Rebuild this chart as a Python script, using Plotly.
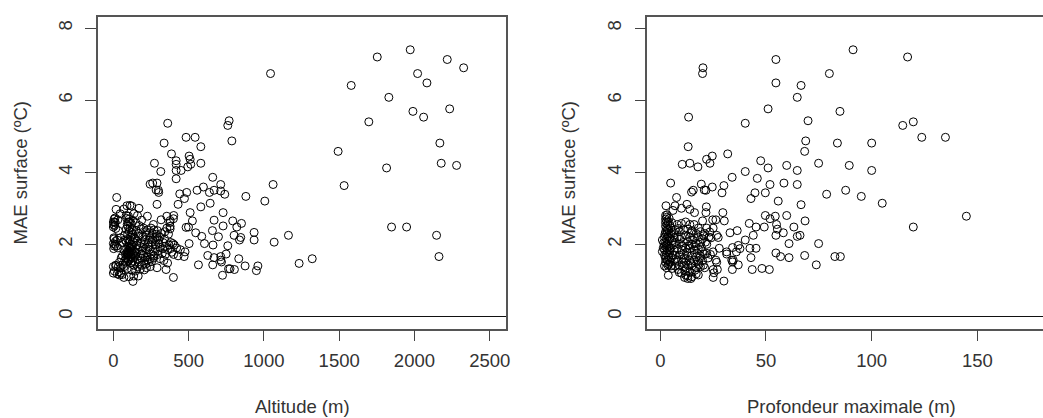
import plotly.graph_objects as go

# (altitude m, MAE surface degC)
altitude_points = [
 (1972,7.40),(1753,7.20),(2218,7.13),(2327,6.90),(1044,6.74),(2021,6.74),(2083,6.48),(1580,6.41),(1830,6.08),(2234,5.76),
 (1990,5.69),(2061,5.53),(1697,5.40),(769,5.43),(760,5.30),(361,5.36),(483,4.97),(543,4.97),(787,4.87),(337,4.81),
 (2169,4.81),(581,4.71),(1493,4.58),(386,4.51),(503,4.45),(510,4.36),(417,4.32),(273,4.25),(581,4.25),(2178,4.25),
 (2280,4.19),(417,4.22),(514,4.22),(494,4.15),(1815,4.12),(417,4.05),(450,4.05),(315,4.02),(660,3.86),(417,3.82),
 (244,3.67),(261,3.70),(290,3.70),(713,3.66),(1061,3.66),(1533,3.63),(598,3.59),(284,3.51),(299,3.50),(301,3.44),
 (556,3.50),(669,3.50),(713,3.48),(638,3.44),(487,3.44),(441,3.40),(740,3.39),(880,3.33),(472,3.27),(22,3.30),
 (1006,3.20),(430,3.11),(643,3.14),(290,3.11),(581,3.04),
 (510,2.88),(729,2.88),(355,2.78),(401,2.80),(669,2.67),(525,2.65),(793,2.65),(851,2.58),(820,2.48),(729,2.51),
 (483,2.47),(499,2.48),(658,2.38),(547,2.32),(935,2.33),(587,2.22),(802,2.25),(698,2.21),(846,2.19),(838,2.12),
 (1163,2.25),(935,2.12),(1068,2.06),(503,2.02),(605,2.02),(662,1.98),(760,1.96),(476,1.79),(445,1.85),(627,1.69),
 (470,1.66),(669,1.63),(749,1.73),(713,1.66),(713,1.56),(718,1.51),(833,1.60),(1321,1.60),(1234,1.47),(565,1.43),
 (660,1.43),(875,1.40),(960,1.40),(950,1.27),(765,1.32),(775,1.32),(804,1.30),(725,1.14),(399,1.08),(1848,2.48),
 (1948,2.48),(2147,2.25),(2163,1.66),
 (18,2.97),(70,2.98),(110,3.08),(90,3.07),(122,3.06),(170,3.00),(45,2.85),(137,2.85),(160,2.80),(85,2.80),
 (11,2.73),(0,2.62),(11,2.62),(188,2.67),(226,2.78),(317,2.68),(0,2.48),(33,2.38),(266,2.55),(377,2.66),
 (399,2.71),(377,2.43),(377,2.50),
 (5,2.70),(30,2.68),(12,2.60),(2,2.55),(100,2.78),(105,2.70),(98,2.62),(118,2.58),(130,2.66),(150,2.60),
 (172,2.52),(200,2.45),(225,2.40),(250,2.45),(270,2.40),(292,2.38),(320,2.30),(355,2.45),(375,2.60),
 (95,2.50),(110,2.45),(125,2.40),(85,2.42),(105,2.36),(150,2.38),(165,2.30),(185,2.42),(215,2.35),(240,2.32),
 (260,2.30),(285,2.28),(310,2.20),(340,2.15),
 (5,2.15),(25,2.12),(45,2.18),(75,2.25),(95,2.28),(115,2.20),(130,2.28),(145,2.15),(170,2.22),(195,2.20),
 (220,2.25),(245,2.18),(275,2.15),(300,2.12),(330,2.05),
 (0,2.02),(10,2.00),(20,1.95),(2,1.88),(30,1.90),(60,2.05),(85,2.08),(105,2.05),(120,2.00),(135,2.05),
 (155,1.98),(180,2.05),(205,2.00),(230,2.02),(255,2.05),(280,1.98),(310,1.92),(345,1.95),(380,1.88),(395,2.02),
 (405,1.98),(370,1.98),(420,1.90),
 (70,1.85),(88,1.88),(100,1.82),(112,1.90),(125,1.85),(140,1.80),(160,1.85),(190,1.82),(215,1.88),(240,1.85),
 (265,1.80),(295,1.82),(325,1.75),(360,1.85),(400,1.72),(430,1.68),
 (40,1.50),(60,1.68),(80,1.72),(92,1.70),(105,1.65),(118,1.72),(130,1.62),(145,1.68),(165,1.58),(185,1.62),
 (205,1.55),(225,1.65),(245,1.60),(235,1.50),(215,1.45),(270,1.68),(310,1.60),(335,1.55),(360,1.48),
 (0,1.38),(15,1.42),(70,1.38),(85,1.50),(100,1.55),(115,1.48),(135,1.42),(160,1.38),(190,1.42),(220,1.35),
 (245,1.38),(290,1.35),(350,1.30),
 (0,1.20),(25,1.18),(40,1.15),(50,1.20),(70,1.08),(105,1.10),(135,1.12),(165,1.12),(130,0.97),
 (100,1.75),(110,1.78),(120,1.80),(130,1.75),(115,1.65),(95,1.60),(108,1.58),(90,1.78),(125,1.95),(100,1.95),
 (88,2.72),(92,2.55),(108,2.62),(122,2.33),(78,2.12),(96,2.14),(112,2.11),(138,2.18),(158,2.09),(176,1.94),
 (198,1.91),(222,1.77),(236,1.93),(252,1.72),(278,1.88),(302,2.02),(288,2.22),(262,2.12),(208,2.12),(186,1.73),
 (152,1.74),(128,1.53),(144,1.51),(172,1.47),(198,1.69),(226,1.56),(212,1.63),(254,1.52),(84,1.62),(76,1.55),
 (62,1.43),(52,1.62),(48,1.34),(36,1.24),(58,1.16),(92,1.33),(122,1.28),(148,1.26),(178,1.31),(205,1.29),
 (6,1.95),(14,2.08),(3,2.18),(8,2.52),(16,2.44),(18,1.40),(6,1.26),(32,1.37),(236,2.12),(328,1.88),
 (268,1.62),(296,1.72),(346,1.72),(382,2.05),(388,1.78),(342,2.35),(366,2.28),(118,1.92),(106,1.88),(94,1.72),
]

# (maximum depth m, MAE surface degC)
depth_points = [
 (91.2,7.40),(117,7.20),(54.7,7.13),(20.2,6.90),(20,6.74),(80,6.74),(54.7,6.48),(66.6,6.41),(64.8,6.08),(51,5.76),
 (85,5.69),(13.4,5.53),(69.9,5.43),(119.7,5.40),(40.2,5.36),(114.7,5.30),(123.7,4.97),(134.9,4.97),(68.8,4.87),(83.8,4.81),
 (100,4.81),(13.2,4.71),(68.3,4.58),(31.9,4.51),(24.6,4.45),(21.9,4.36),(47.5,4.32),(74.9,4.25),(14,4.25),(23.5,4.25),
 (10.4,4.22),(59.8,4.19),(89.4,4.19),(17.8,4.15),(51,4.12),(64.8,4.05),(100,4.05),(40.2,4.02),(34,3.86),(45.9,3.83),
 (4.9,3.70),(19.4,3.67),(58.5,3.70),(51.9,3.66),(64.8,3.66),(30.1,3.63),(24.6,3.59),(20.8,3.51),(21.6,3.50),(15.6,3.50),
 (14.8,3.45),(87.7,3.50),(29.2,3.43),(44.8,3.43),(49.7,3.43),(78.7,3.39),(7.7,3.30),(95.1,3.33),(42.9,3.27),(55.8,3.20),
 (105,3.14),(66.6,3.10),(2.7,3.07),(12.6,3.11),(21.8,3.04),(7,3.07),(10,3.00),(14,2.97),(6,2.94),(16.2,2.88),
 (21.6,2.88),(29.6,2.88),(49.7,2.80),(54.4,2.78),(59.8,2.80),(144.8,2.78),(51.9,2.71),(30.3,2.65),(24.8,2.68),(26.3,2.68),
 (68.5,2.65),(42.1,2.58),(55,2.55),(45.3,2.48),(49.2,2.48),(63.2,2.48),(119.7,2.48),(55.4,2.42),(36.4,2.38),(33,2.32),
 (58.2,2.32),(44,2.25),(54.7,2.25),(64.8,2.22),(66.1,2.25),(27.4,2.19),(26.7,2.25),(40.2,2.12),(60.9,2.02),(74.9,2.02),
 (42.4,1.89),(45.3,1.89),(27.9,1.89),(34.2,1.91),(37.7,1.88),(36.9,1.97),(25,1.79),(31.4,1.79),(31.4,1.73),(36,1.79),
 (54.7,1.76),(56.9,1.66),(60.9,1.63),(68.3,1.69),(42.9,1.63),(82.6,1.66),(85.2,1.66),(33.8,1.56),(34.5,1.56),(34.2,1.51),
 (26.3,1.56),(26.7,1.50),(36.9,1.43),(73.8,1.43),(43.5,1.30),(48.1,1.33),(51.6,1.30),(34.1,1.30),(25,1.30),(27,1.30),
 (25.4,1.21),(25,1.08),(30.1,0.98),(3.8,1.14),
 (2.5,2.80),(3,2.75),(2.5,2.70),(3,2.65),(2.5,2.60),(3.5,2.55),(2.5,2.50),(3,2.45),(4,2.40),(2.5,2.35),
 (3,2.30),(4,2.25),(2,2.20),(3,2.15),(1,2.12),(4,2.10),(2.5,2.05),(3.5,2.00),(2,1.95),(3,1.90),
 (4.5,1.85),(2,1.85),(1,1.80),(3,1.75),(2,1.70),(4,1.65),(2.5,1.60),(3.5,1.55),(2.5,1.50),(4,1.45),
 (2,1.40),(3,1.35),(5,1.40),(5,2.30),(5.5,2.10),(5,1.90),(6,1.70),(5.5,2.60),(5,2.45),
 (8,2.55),(10,2.58),(12,2.62),(14,2.55),(16,2.55),(18,2.45),(20,2.65),(22,2.45),(7,2.40),(9,2.35),
 (11,2.40),(13,2.42),(15,2.38),(17,2.30),(19,2.35),(21,2.30),(8,2.20),(10,2.20),(12,2.25),(14,2.20),
 (16,2.18),(18,2.20),(20,2.15),(23,2.20),(25,2.45),(24,2.18),(7,2.05),(9,2.00),(11,2.05),(13,2.08),
 (15,2.00),(17,2.02),(19,2.05),(22,2.00),(8,1.88),(10,1.85),(12,1.90),(14,1.88),(16,1.85),(18,1.88),
 (20,1.80),(22,1.75),(7,1.70),(9,1.70),(11,1.72),(13,1.68),(15,1.70),(17,1.65),(19,1.68),(21,1.72),
 (8,1.55),(10,1.58),(12,1.50),(14,1.55),(16,1.55),(18,1.52),(20,1.55),(7,1.40),(9,1.42),(11,1.38),
 (13,1.42),(15,1.40),(17,1.35),(19,1.38),(21,1.35),(9,1.22),(10,1.20),(12,1.15),(13,1.12),(14,1.22),
 (15,1.10),(17,1.18),(11.5,1.08),(13,1.05),(14.5,1.05),(18,1.15),
 (3.2,2.82),(4.2,2.72),(3.7,2.62),(4.4,2.52),(3.2,2.38),(2.2,2.28),(3.6,2.21),(4.6,2.16),(1.6,2.04),(2.9,1.98),
 (4.1,1.94),(1.4,1.90),(3.3,1.82),(4.4,1.76),(2.6,1.66),(5.2,1.62),(3.2,1.56),(4.7,1.50),(3.6,1.42),(5.6,1.33),
 (6.4,2.32),(6.6,2.18),(6.3,1.98),(6.8,1.83),(7.3,1.58),(8.6,2.44),(9.4,2.14),(10.6,1.96),(11.4,1.62),(12.6,1.78),
 (13.6,1.96),(14.6,2.31),(15.4,2.12),(16.6,1.94),(17.4,1.76),(18.6,1.62),(19.4,1.93),(20.6,2.24),(21.4,2.06),(22.6,1.62),
 (23.4,2.34),(23.7,1.72),(10.4,1.50),(12.4,1.33),(14.6,1.46),(16.4,1.28),(18.4,1.44),(20.4,1.42),(8.4,1.30),(11.6,1.26),
]

x_title_left = "Altitude (m)"
x_title_right = "Profondeur maximale (m)"
y_title = "MAE surface (ºC)"
x_ticks_left = [0, 500, 1000, 1500, 2000, 2500]
x_ticks_right = [0, 50, 100, 150]
y_ticks = [0, 2, 4, 6, 8]

W, H = 1047, 418
TXT = "#333333"
BOX = "#555555"
FONT = "Liberation Sans, Arial, sans-serif"
SZ = 18.5

fig = go.Figure()
for pts, xa, ya in ((altitude_points, "x", "y"), (depth_points, "x2", "y2")):
    fig.add_trace(go.Scatter(
        x=[p[0] for p in pts], y=[p[1] for p in pts], mode="markers", xaxis=xa, yaxis=ya,
        marker=dict(symbol="circle-open", size=8, color="#000000", line=dict(width=1, color="#000000")),
        showlegend=False, cliponaxis=False))

xcommon = dict(showgrid=False, zeroline=False, showline=True, mirror=True, linecolor=BOX, linewidth=1.5,
               ticks="outside", ticklen=11, tickwidth=1, tickcolor="#444444", ticklabelstandoff=4,
               tickfont=dict(family=FONT, size=SZ, color=TXT))
ycommon = dict(showgrid=False, zeroline=True, zerolinecolor="#111111", zerolinewidth=1, showline=True,
               linecolor=BOX, linewidth=1.5, ticks="outside", ticklen=11, tickwidth=1, tickcolor="#444444",
               tickangle=-90, ticklabelstandoff=6, tickfont=dict(family=FONT, size=SZ, color=TXT),
               range=[-0.337, 8.31], tickvals=y_ticks, ticktext=[str(v) for v in y_ticks])

fig.update_layout(
    width=W, height=H, autosize=False, margin=dict(l=0, r=0, t=0, b=0),
    paper_bgcolor="white", plot_bgcolor="white", showlegend=False,
    xaxis=dict(domain=[98.4/W, 508.2/W], range=[-102, 2610], tickvals=x_ticks_left, **xcommon),
    yaxis=dict(domain=[1-328.5/H, 1-17/H], anchor="x", mirror=True,
               title=dict(text=y_title, standoff=22, font=dict(family=FONT, size=SZ, color=TXT)), **ycommon),
    xaxis2=dict(domain=[649.8/W, 1.0], range=[-6.13, 181.05], tickvals=x_ticks_right, anchor="y2", **xcommon),
    yaxis2=dict(domain=[1-328.5/H, 1-17/H], anchor="x2", mirror=False,
                title=dict(text=y_title, standoff=24, font=dict(family=FONT, size=SZ, color=TXT)), **ycommon),
    annotations=[
        dict(text=x_title_left, xref="paper", yref="paper", x=303.3/W, y=0, xanchor="center", yanchor="bottom",
             showarrow=False, borderpad=0, font=dict(family=FONT, size=SZ, color=TXT)),
        dict(text=x_title_right, xref="paper", yref="paper", x=854.7/W, y=0, xanchor="center", yanchor="bottom",
             showarrow=False, borderpad=0, font=dict(family=FONT, size=SZ, color=TXT)),
    ],
)
fig.write_html("out.html", config={"displayModeBar": False},
               post_script="document.body.style.margin='0';document.body.style.overflow='hidden';"
                           "document.documentElement.style.overflow='hidden';")
